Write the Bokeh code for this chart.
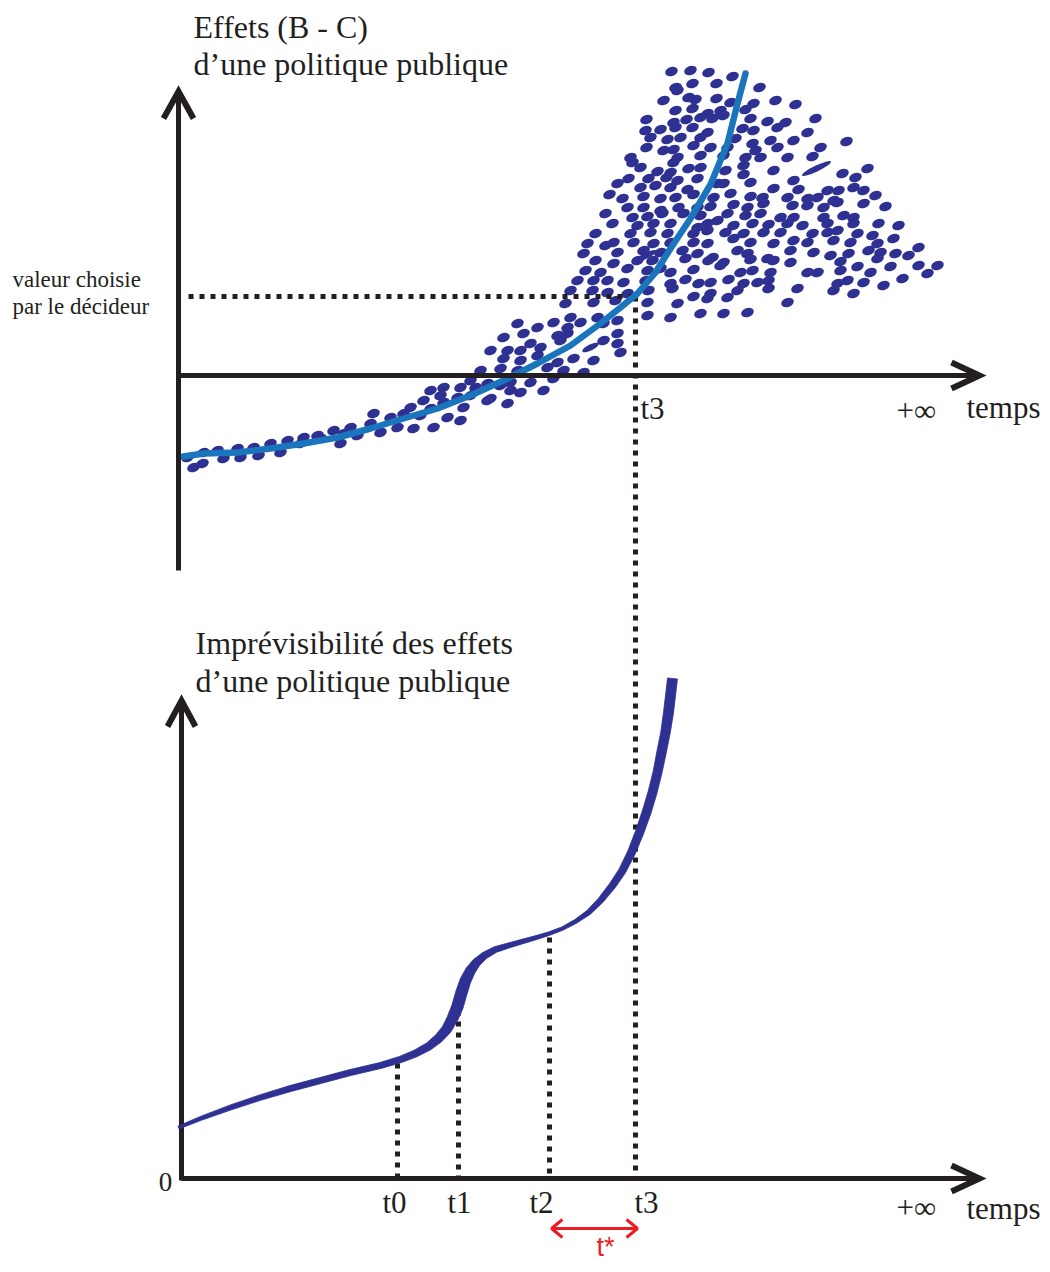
import math
from bokeh.plotting import figure
from bokeh.models import Range1d
from bokeh.embed import file_html
from bokeh.resources import INLINE
from bokeh.core.properties import value

NAVY = "#2e3192"
BLUE = "#1b75bc"
BLACK = "#231f20"
RED = "#ed1c24"
SERIF = value("Liberation Serif")

# ---------------- top panel data ----------------
top_curve_x = [183, 203, 237, 270, 303, 337, 370, 403, 437, 470, 503, 537, 570, 600, 620, 637, 655, 670, 690, 710, 727, 737, 745]
top_curve_y = [456, 453, 452, 448, 443, 437, 428, 418, 408, 395, 380, 363, 345, 323, 307, 293, 272, 248, 218, 184, 143, 103, 73]

dots = [
    671,71, 690,70, 708,72, 732,76, 759,87,
    692,83, 716,83, 675,87, 677,90,
    663,100, 688,97, 695,99, 716,98, 730,102, 753,103, 775,100, 795,104,
    675,110, 692,108, 707,113, 720,110, 745,109,
    646,119, 673,122, 686,119, 700,117, 712,118, 723,115, 750,118, 767,121, 785,122, 815,118,
    645,130, 660,129, 675,127, 692,127, 707,132, 742,128, 753,130, 777,127, 807,132,
    650,137, 667,139, 680,137, 700,137, 735,138, 752,143, 770,140, 793,140, 846,141,
    646,147, 663,150, 673,149, 693,145, 710,147, 727,147, 755,150, 777,147, 820,147,
    630,157, 677,157, 700,155, 723,155, 745,157, 760,157, 787,157, 812,156,
    632,162, 673,162, 743,165,
    640,167, 657,171, 670,172, 688,168, 700,167, 725,170, 743,174, 773,170, 842,173, 867,168,
    628,178, 648,178, 666,177, 677,180, 697,178, 717,183, 750,182, 793,180, 855,177,
    617,183, 640,187, 655,185, 670,187, 687,189, 723,183, 773,188, 798,189, 827,190, 838,190, 853,187, 863,190,
    609,194, 622,198, 643,196, 660,198, 675,197, 693,194, 713,197, 730,193, 750,196, 762,197, 787,197, 807,198, 817,197, 833,200, 875,195,
    627,207, 643,207, 660,210, 678,207, 697,207, 710,206, 733,204, 747,207, 763,203, 792,205, 807,205, 823,207, 837,202, 863,203, 885,206,
    605,213, 632,217, 647,216, 662,213, 683,213, 700,215, 717,220, 727,213, 745,215, 760,213, 780,217, 793,217, 823,217, 843,215, 853,217,
    612,223, 637,225, 653,223, 670,223, 697,227, 707,223, 733,225, 752,223, 768,224, 787,223, 802,225, 827,223, 853,223, 878,223, 898,225,
    595,233, 630,233, 650,232, 667,233, 693,233, 707,230, 725,232, 743,233, 763,232, 780,232, 812,233, 827,232, 837,230, 857,233, 872,235,
    587,243, 605,245, 613,242, 633,242, 653,243, 670,242, 693,242, 707,243, 733,238, 750,242, 773,243, 793,240, 807,242, 833,240, 850,242, 877,243, 893,238,
    583,253, 617,252, 643,250, 660,252, 682,250, 697,253, 712,257, 737,250, 747,253, 767,258, 790,250, 813,252, 830,255, 848,253, 868,250, 880,252, 895,253, 918,247,
    595,260, 613,263, 637,260, 652,260, 685,258, 708,260, 723,262, 750,259, 773,260, 790,262, 840,261, 877,258, 908,255,
    585,270, 600,272, 627,268, 647,270, 660,268, 670,272, 693,269, 720,265, 740,272, 752,270, 770,272, 807,272, 817,272, 840,270, 857,266, 870,272, 890,266, 918,265, 937,265,
    577,280, 593,280, 607,280, 623,282, 645,280, 670,283, 685,279, 698,283, 710,282, 728,279, 743,283, 757,282, 768,280, 837,283, 847,280, 863,282, 902,278, 927,273,
    570,290, 592,290, 607,292, 627,293, 648,290, 672,288, 693,296, 710,293, 737,290, 768,288, 797,288, 833,290, 853,293, 883,285,
    565,303, 593,302, 615,300, 647,302, 677,303, 707,298, 727,297, 747,312, 787,302,
    570,317, 597,317, 617,320, 647,315, 670,317, 700,313, 723,313,
    517,323, 537,327, 553,322, 567,327, 580,322, 503,337, 523,333, 557,335, 567,333, 603,323, 617,333,
    490,350, 507,350, 520,350, 530,343, 540,347, 560,340, 603,340, 617,343, 620,352,
    503,358, 520,360, 537,355, 557,362, 573,358, 593,360, 480,370, 500,368, 517,370, 547,367, 563,370, 583,372,
    470,380, 487,383, 510,382, 530,382, 553,378, 443,387, 460,387, 475,387, 500,385, 510,390, 520,392, 543,390,
    430,390, 440,395, 457,397, 470,395, 490,398, 423,400, 443,402, 487,400, 507,403, 410,407, 430,408, 463,407,
    403,413, 420,415, 447,417, 460,420, 373,413, 390,417, 370,423, 397,427, 413,428, 433,427, 350,427, 380,432,
    333,430, 343,433, 317,435, 357,435, 303,437, 320,438, 287,440, 300,443, 340,443, 270,443, 253,447, 237,448,
    217,450, 203,452, 223,458, 240,457, 258,455, 280,452, 193,467, 202,463, 187,457,
]
dots_x = dots[0::2]
dots_y = dots[1::2]

dash_x = [816, 646, 590]
dash_y = [168, 255, 347]
dash_len = [32, 22, 18]

top_yaxis_x = [178, 178]
top_yaxis_y = [570, 91]
top_xaxis_x = [178, 979]
top_xaxis_y = [375, 375]

chosen_y = 296
t3_x = 635

# ---------------- bottom panel data ----------------
bot_curve_x = [178, 200, 230, 260, 290, 320, 350, 380, 400, 415, 428, 438, 446, 452, 457, 461, 465, 470, 476, 484, 495, 508, 522, 536, 549, 562, 575, 588, 600, 612, 622, 631, 639, 646, 652, 657, 661, 665, 668, 670, 672]
bot_curve_y = [1127, 1118, 1107, 1097, 1088, 1080, 1072, 1065, 1059, 1053, 1046, 1038, 1029, 1018, 1006, 992, 980, 970, 962, 955, 949, 945, 941, 937, 933, 928, 921, 912, 900, 885, 870, 852, 832, 812, 792, 772, 752, 732, 712, 695, 678]
bot_curve_w = [3, 4, 5, 5.5, 6, 6, 6, 6, 6.5, 7, 8, 9, 10, 11, 11.5, 11.5, 11, 10, 8.5, 7, 6, 5, 4.5, 4, 3.5, 3.5, 4, 5, 6, 7, 7.5, 8, 8.5, 9, 9, 9, 9.5, 9.5, 10, 10, 10]

bot_yaxis_x = [181, 181]
bot_yaxis_y = [1180, 700]
bot_xaxis_x = [181, 979]
bot_xaxis_y = [1178, 1178]

t_marks_x = [397, 458, 549, 635]
t_marks_top = [1063, 1010, 937, 296]
t_labels = ["t0", "t1", "t2", "t3"]
t_label_x = [394, 459, 541, 646]

tstar_x = [551, 637]
tstar_y = 1228

# ---------------- figure ----------------
W, H = 1042, 1264
p = figure(width=W, height=H, output_backend="svg", toolbar_location=None,
           x_range=Range1d(0, W), y_range=Range1d(H, 0),
           x_axis_type=None, y_axis_type=None, min_border=0)
p.grid.visible = False
p.outline_line_color = None
p.background_fill_color = "white"

# scatter cloud
p.ellipse(x=dots_x, y=dots_y, width=13, height=9, angle=0.35, fill_color=NAVY, line_color=None)
p.ellipse(x=dash_x, y=dash_y, width=dash_len, height=6, angle=0.45, fill_color=NAVY, line_color=None)

# dotted guide lines
p.line([188, t3_x], [chosen_y, chosen_y], line_color=BLACK, line_width=5, line_dash="5 6")
p.segment(x0=t_marks_x, y0=t_marks_top, x1=t_marks_x, y1=[1176] * 4,
          line_color=BLACK, line_width=5, line_dash="5 6")

# blue trend line
p.line(top_curve_x, top_curve_y, line_color=BLUE, line_width=6.5, line_cap="round", line_join="round")

# axes with arrow heads
def arrow_axis(xs, ys, head, horizontal):
    p.line(xs, ys, line_color=BLACK, line_width=5)
    tx, ty = xs[1], ys[1]
    if horizontal:
        p.line([tx - head[0], tx, tx - head[0]], [ty - head[1], ty, ty + head[1]],
               line_color=BLACK, line_width=6, line_join="miter")
    else:
        p.line([tx - head[1], tx, tx + head[1]], [ty + head[0], ty, ty + head[0]],
               line_color=BLACK, line_width=6, line_join="miter")

arrow_axis(top_yaxis_x, top_yaxis_y, (27, 15), False)
arrow_axis(top_xaxis_x, top_xaxis_y, (28, 13), True)
arrow_axis(bot_yaxis_x, bot_yaxis_y, (26, 14), False)
arrow_axis(bot_xaxis_x, bot_xaxis_y, (28, 13), True)

# bottom curve: a band of varying thickness around the centre line
n = len(bot_curve_x)
upper_x, upper_y, lower_x, lower_y = [], [], [], []
for i in range(n):
    a = max(i - 1, 0); b = min(i + 1, n - 1)
    dx = bot_curve_x[b] - bot_curve_x[a]; dy = bot_curve_y[b] - bot_curve_y[a]
    L = math.hypot(dx, dy)
    nx, ny = -dy / L, dx / L
    h = bot_curve_w[i] / 2
    upper_x.append(bot_curve_x[i] + nx * h); upper_y.append(bot_curve_y[i] + ny * h)
    lower_x.append(bot_curve_x[i] - nx * h); lower_y.append(bot_curve_y[i] - ny * h)
p.patch(upper_x + lower_x[::-1], upper_y + lower_y[::-1], fill_color=NAVY, line_color=NAVY, line_width=0.8)

# red t* arrow
p.line(tstar_x, [tstar_y, tstar_y], line_color=RED, line_width=3)
p.line([tstar_x[0] + 11, tstar_x[0], tstar_x[0] + 11], [tstar_y - 9, tstar_y, tstar_y + 9], line_color=RED, line_width=3)
p.line([tstar_x[1] - 11, tstar_x[1], tstar_x[1] - 11], [tstar_y - 9, tstar_y, tstar_y + 9], line_color=RED, line_width=3)

# texts
def txt(x, y, s, size, color=BLACK, align="left", font=SERIF):
    p.text(x=[x], y=[y], text=[s], text_font=font, text_font_size=f"{size}px",
           text_color=color, text_align=align, text_baseline="middle")

txt(193, 26, "Effets (B - C)", 32)
txt(193, 63, "d\u2019une politique publique", 32)
txt(12, 279, "valeur choisie", 23)
txt(12, 306, "par le d\u00e9cideur", 23)
txt(640, 408, "t3", 31)
txt(896, 410, "+\u221e", 31)
txt(966, 407, "temps", 31)

txt(195, 642, "Impr\u00e9visibilit\u00e9 des effets", 32)
txt(195, 680, "d\u2019une politique publique", 32)
txt(165, 1181, "0", 27, align="center")
for lx, lab in zip(t_label_x, t_labels):
    txt(lx, 1202, lab, 31, align="center")
txt(896, 1207, "+\u221e", 31)
txt(966, 1208, "temps", 31)
txt(605, 1246, "t*", 27, color=RED, align="center", font=value("Liberation Sans"))

open("out.html", "w").write(file_html(p, INLINE))
